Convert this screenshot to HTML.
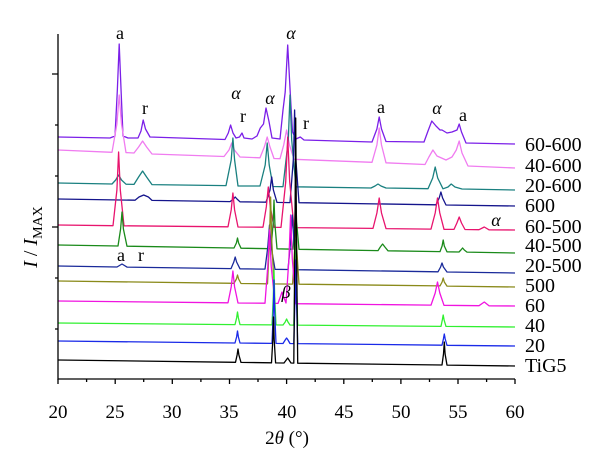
<!DOCTYPE html>
<html><head><meta charset="utf-8"><style>
html,body{margin:0;padding:0;background:#fff;}
svg{display:block;font-family:"Liberation Serif",serif;}
</style></head><body>
<svg width="600" height="472" xmlns="http://www.w3.org/2000/svg">
<g fill="none" stroke-width="1.3" stroke-linejoin="round">
<path stroke="#7b1fe8" d="M58 137 L110 138 L115 136 L117.3 91 L119.2 44 L121.1 91 L123 136 L128 138 L138 138 L141 131 L143.2 120 L145.5 129 L150 137 L225 139.5 L228.3 133 L230.6 125 L233 133 L236 138 L239.5 137 L242 133 L244 138 L252 139 L257 136 L260.3 128 L263.5 124 L266 108 L268.9 121 L272 138 L280 139 L283 110 L285.2 92 L287.7 45 L290.2 92 L292.5 132 L296 139 L300.3 137 L304 140 L372 142 L376.9 129 L379.2 117 L381.5 129 L386 141.5 L424 142 L428 131 L431.8 121 L436 126 L440 130 L442 130 L447 133 L452 132 L457 130 L459.2 124 L461.5 132 L466 143 L515 144"/>
<path stroke="#f07cf0" d="M58 150 L112 152.3 L116.9 124 L119.2 95 L121.5 124 L126 152.6 L134 153 L138.6 147 L142.6 141 L146.6 147 L152 154 L224 156.5 L229 150 L231.7 143 L234.4 150 L240 157 L260 157.8 L264.3 147 L267.2 137 L270 147 L274 158.5 L280 158.7 L283.7 145 L286.6 130 L289.5 145 L294 159.3 L372 162.3 L376.9 145 L379.2 128 L381.5 145 L386 162.8 L425 164.5 L428.9 157 L432.9 150 L437 156 L446 160 L452 157 L456.3 150 L459.2 141 L462 153 L468 166 L515 168"/>
<path stroke="#1a8080" d="M58 183 L112 184 L115.7 180 L118.6 175 L121.5 180 L126 184.2 L134 184.4 L138.6 177 L142.6 171 L146.6 177 L152 184.6 L226 185.6 L231.2 160 L232.9 138 L234.6 160 L238 186 L260 186 L265.2 165 L267.2 143 L269.2 165 L273 186.5 L283 186.7 L288.3 140 L290 95 L291.7 140 L296 186.8 L371 188 L375 186 L378 184 L381 186 L386 188 L428 188.7 L432.7 178 L435.2 167 L437.7 178 L443 188.8 L448 187 L451.2 184 L455 187 L462 189 L515 190"/>
<path stroke="#14148c" d="M58 199 L135 200.2 L139 197 L143.7 195 L148.4 197 L152 200.4 L230 201.6 L233.5 199 L235.2 197 L237 199 L240 201.8 L266 202.2 L270 190 L271.7 177 L273.4 190 L277 202.4 L290 202.6 L293.6 156 L294.6 110 L295.6 156 L299 202.7 L436 204.8 L439.2 198 L440.9 192 L442.6 198 L446 205 L515 206"/>
<path stroke="#e8146e" d="M58 225 L113 225.7 L116.9 190 L118.6 152 L120.3 190 L124 225.8 L228 226.8 L231.2 210 L232.9 193 L234.6 210 L238 227 L263 227.2 L266.3 207 L268.3 187 L270.3 207 L274 227.4 L281 227.4 L285.7 182 L287.7 137 L289.7 182 L294 227.6 L373 228.4 L376.9 213 L379.2 198 L381.5 213 L386 228.6 L431 229.1 L435.2 213 L437.5 198 L439.8 213 L444 229.3 L454 229.4 L456.9 223 L459.2 217 L461.5 223 L465 229.5 L479 229.7 L484.3 227 L489 229.8 L515 230"/>
<path stroke="#1a8a1a" d="M58 245 L118 246 L120.6 229 L122 212 L123.4 229 L127 246.2 L234 248 L236.4 243 L237.5 238 L238.6 243 L241 248.2 L271 248.7 L273.1 224 L274 200 L274.9 224 L277 248.8 L293 249.2 L294.8 222 L295.7 195 L296.6 222 L299 249.3 L378 250.6 L380.3 247 L382.6 244 L384.9 247 L388 250.8 L440 251.6 L442.1 246 L443.2 240 L444.3 246 L447 251.8 L459 252 L460.9 250 L462.6 248 L464.3 250 L467 252.1 L515 253"/>
<path stroke="#1a2a9a" d="M58 266 L117 267 L122 264 L127 267.1 L231 268.6 L233.8 262 L235.2 257 L236.6 262 L240 268.8 L265 269.1 L267.8 247 L269.5 225 L271.2 247 L275 269.3 L288 269.5 L290.6 242 L292.3 215 L294 242 L297 269.7 L438 271.8 L440.6 267 L442 263 L443.4 267 L447 272 L515 273"/>
<path stroke="#8a8a1a" d="M58 281 L234 283.3 L236.4 279 L237.5 275 L238.6 279 L241 283.5 L267.5 283.8 L269.5 240 L270.6 197 L271.7 240 L274 283.9 L292.6 284.1 L294.6 250 L295.7 215 L296.8 250 L299 284.2 L440 285.9 L442.1 282 L443.2 278 L444.3 282 L447 286.1 L515 287"/>
<path stroke="#f014e0" d="M58 301 L228 302.8 L231.2 287 L232.9 271 L234.6 287 L238 303 L265 303.2 L267.8 266 L269.5 230 L271.2 266 L275 303.4 L278 303.4 L280.3 297 L282 292 L283.7 297 L286 303 L288.9 259 L290.6 215 L292.3 259 L296 303.7 L431 305.1 L435.2 293 L437.5 282 L439.8 293 L444 305.3 L479 305.7 L484.3 302 L489 305.8 L515 306"/>
<path stroke="#30f030" d="M58 323 L235 324.6 L236.6 318 L237.5 312 L238.4 318 L240 324.6 L272 324.9 L273.3 297 L274 270 L274.7 297 L276 324.9 L283 325 L285.2 322 L286.6 319 L288 322 L290 325 L293.8 325.1 L294.9 283 L295.7 240 L296.5 283 L297.7 325.1 L441 326.4 L442.3 320 L443.2 315 L444.1 320 L446 326.4 L515 327"/>
<path stroke="#1a2ae8" d="M58 341 L235 343 L236.6 337 L237.5 331 L238.4 337 L240 343 L272 343.4 L273.3 312 L274 280 L274.7 312 L276 343.4 L283 343.5 L285.2 340 L286.6 338 L288 340 L290 343.5 L293.8 343.6 L294.9 302 L295.7 260 L296.5 302 L297.7 343.6 L442 345.2 L443.4 339 L444.3 334 L445.2 339 L447 345.3 L515 346"/>
<path stroke="#000" d="M58 360 L235.5 362.3 L237.1 355 L238 349 L238.9 355 L241 362.4 L271.5 362.8 L272.8 340 L273.5 317 L274.2 340 L275.6 362.9 L284 363 L287.7 358 L291 363 L293.8 363.1 L294.9 240 L295.7 118 L296.5 240 L297.7 363.2 L442 365 L443.5 354 L444.3 342 L445.1 354 L447 365.1 L515 366"/>
</g>
<g stroke="#000" stroke-width="1.3" fill="none">
<path d="M58 34 V379 H515"/>
<path d="M58 74 h-6 M58 227 h-6 M58 125 h-3 M58 176 h-3 M58 278 h-3 M58 329 h-3"/>
<path d="M58 379 v5 M115.2 379 v5 M172.3 379 v5 M229.5 379 v5 M286.6 379 v5 M343.8 379 v5 M400.9 379 v5 M458 379 v5 M515 379 v5"/>
<path d="M86.6 379 v3 M143.7 379 v3 M200.9 379 v3 M258 379 v3 M315.2 379 v3 M372.3 379 v3 M429.5 379 v3 M486.6 379 v3"/>
</g>
<g font-size="19" text-anchor="middle" fill="#000">
<text x="58" y="418">20</text><text x="115" y="418">25</text><text x="172" y="418">30</text><text x="229" y="418">35</text><text x="287" y="418">40</text><text x="344" y="418">45</text><text x="401" y="418">50</text><text x="458" y="418">55</text><text x="515" y="418">60</text>
<text x="287" y="444" font-size="19">2<tspan font-style="italic">θ</tspan> (°)</text>
</g>
<text transform="translate(37,237) rotate(-90)" font-size="20" text-anchor="middle"><tspan font-style="italic">I</tspan> / <tspan font-style="italic">I</tspan><tspan font-size="14" dy="5">MAX</tspan></text>
<g font-size="20" fill="#000">
<text x="525" y="151">60-600</text>
<text x="525" y="172">40-600</text>
<text x="525" y="192">20-600</text>
<text x="525" y="212">600</text>
<text x="525" y="233">60-500</text>
<text x="525" y="252">40-500</text>
<text x="525" y="272">20-500</text>
<text x="525" y="292">500</text>
<text x="525" y="312">60</text>
<text x="525" y="332">40</text>
<text x="525" y="352">20</text>
<text x="525" y="372">TiG5</text>
</g>
<g font-size="18" text-anchor="middle" fill="#000">
<text x="120" y="39">a</text>
<text x="145" y="114">r</text>
<text x="236" y="99" font-style="italic">α</text>
<text x="243" y="122">r</text>
<text x="270" y="104" font-style="italic">α</text>
<text x="291" y="39" font-style="italic">α</text>
<text x="306" y="129">r</text>
<text x="381" y="113">a</text>
<text x="437" y="114" font-style="italic">α</text>
<text x="463" y="121">a</text>
<text x="496" y="226" font-style="italic">α</text>
<text x="121" y="261">a</text>
<text x="141" y="261">r</text>
<text x="286" y="298" font-style="italic">β</text>
</g>
</svg>
</body></html>
